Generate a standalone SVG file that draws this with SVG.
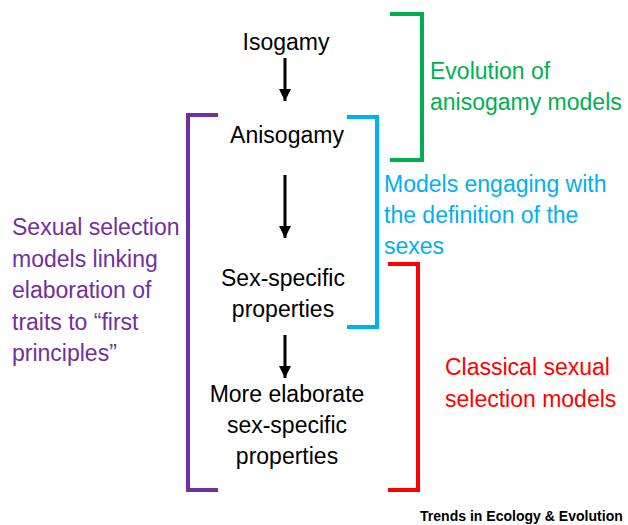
<svg xmlns="http://www.w3.org/2000/svg" width="628" height="525" viewBox="0 0 628 525">
<defs>
<style>
text{font-family:"Liberation Sans",Arial,sans-serif;font-size:23px}
.n{fill:#000;text-anchor:middle}
.br{fill:none;stroke-width:4}
.ar{stroke:#000;stroke-width:3}
</style>
<marker id="ah" viewBox="0 0 10 10" refX="10" refY="5" markerWidth="4" markerHeight="4" markerUnits="strokeWidth" orient="auto"><path d="M0,0L10,5L0,10z" fill="#000"/></marker>
</defs>
<rect width="628" height="525" fill="#fff"/>
<g id="isogamy"><text class="n" x="286" y="50">Isogamy</text></g>
<g id="anisogamy"><text class="n" x="287" y="143">Anisogamy</text></g>
<g id="sexspecific"><text class="n" x="283" y="286">Sex-specific</text><text class="n" x="283" y="317">properties</text></g>
<g id="elaborate"><text class="n" x="287" y="402">More elaborate</text><text class="n" x="287" y="433">sex-specific</text><text class="n" x="287" y="464">properties</text></g>
<g id="connectors">
<line class="ar" x1="285" y1="58" x2="285" y2="101" marker-end="url(#ah)"/>
<line class="ar" x1="285" y1="175" x2="285" y2="238" marker-end="url(#ah)"/>
<line class="ar" x1="285" y1="335" x2="285" y2="378" marker-end="url(#ah)"/>
</g>
<g id="green">
<path class="br" stroke="#00B050" d="M390,14H422V160H390"/>
<text x="430" y="79" fill="#00B050">Evolution of</text>
<text x="430" y="110" fill="#00B050">anisogamy models</text>
</g>
<g id="blue">
<path class="br" stroke="#00B0F0" d="M347,117H377V327H347"/>
<text x="384" y="192" fill="#00B0F0">Models engaging with</text>
<text x="384" y="223" fill="#00B0F0">the definition of the</text>
<text x="384" y="254" fill="#00B0F0">sexes</text>
</g>
<g id="red">
<path class="br" stroke="#FF0000" d="M388,264H418V490H388"/>
<text x="445" y="375" fill="#FF0000">Classical sexual</text>
<text x="445" y="407" fill="#FF0000">selection models</text>
</g>
<g id="purple">
<path class="br" stroke="#7030A0" d="M218,115H188V490H218"/>
<text x="12" y="235" fill="#7030A0">Sexual selection</text>
<text x="12" y="267" fill="#7030A0">models linking</text>
<text x="12" y="298" fill="#7030A0">elaboration of</text>
<text x="12" y="330" fill="#7030A0">traits to “first</text>
<text x="12" y="361" fill="#7030A0">principles”</text>
</g>
<text x="622" y="521" text-anchor="end" font-weight="bold" style="font-size:14px;letter-spacing:-0.8px" textLength="202">Trends in Ecology &amp; Evolution</text>
</svg>
